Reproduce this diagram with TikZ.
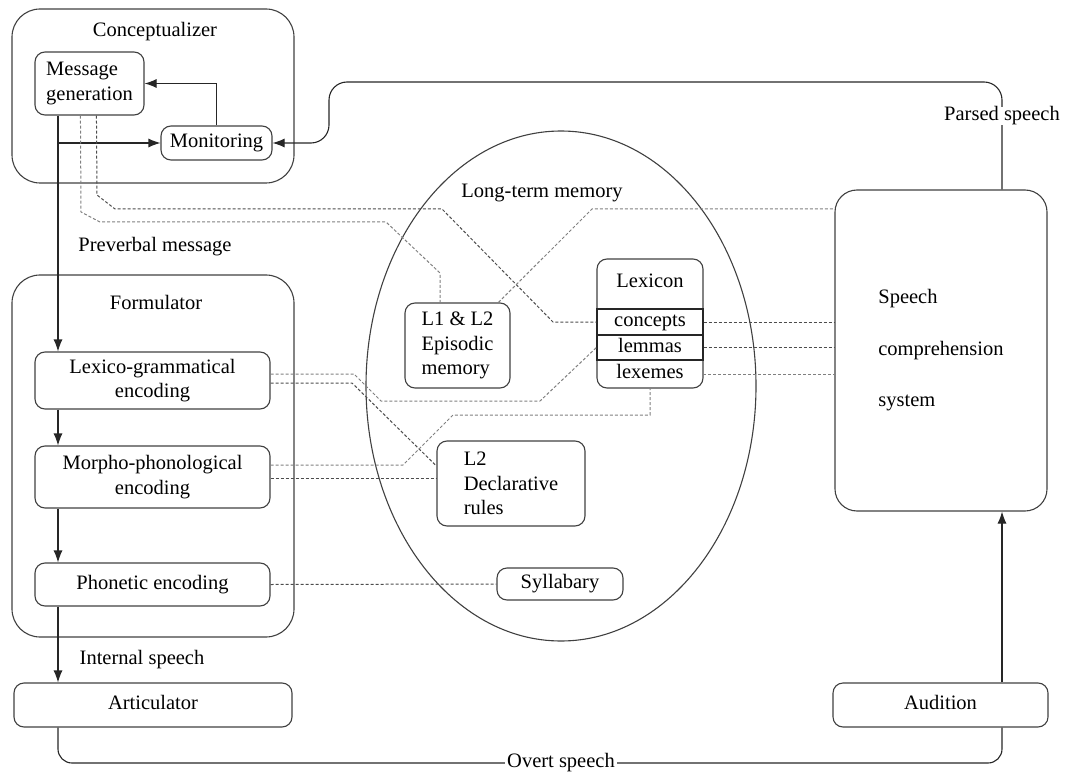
\documentclass[tikz,border=0pt]{standalone}
\usepackage{fontspec}
\setmainfont{Liberation Serif}
\usetikzlibrary{arrows.meta,calc,shapes.geometric}
\begin{document}
\begin{tikzpicture}[x=1pt,y=-1pt,
  font=\fontsize{20.5}{24.5}\selectfont,
  txt/.style={text height=14pt, text depth=4.5pt, inner sep=0pt},
  box/.style={draw=black!75, line width=1.1pt, rounded corners=10pt, inner sep=0pt},
  bigbox/.style={draw=black!75, line width=1.1pt, rounded corners=28pt, inner sep=0pt},
  solidline/.style={draw=black!85, line width=1.1pt},
  arr/.style={solidline, -{Latex[length=12pt,width=9pt]}},
  dk/.style={draw=black!70, line width=1pt, dash pattern=on 3pt off 2pt},
  lt/.style={draw=black!50, line width=1pt, dash pattern=on 3pt off 2pt},
  lbl/.style={txt, fill=white, inner xsep=2pt}]
\useasboundingbox (0,0) rectangle (1067,775);

% ---- containers
\node[bigbox, minimum width=282pt, minimum height=174pt] (concept) at (153,96) {};
\node[txt] (concepttitle) at (155,32) {Conceptualizer};
\node[bigbox, minimum width=282pt, minimum height=362pt] (form) at (153,456) {};
\node[txt] (formtitle) at (156,305) {Formulator};
\node[draw=black!75, line width=1.1pt, ellipse, minimum width=390pt, minimum height=510pt, inner sep=0pt] (ltm) at (561,386) {};
\node[txt] (ltmtitle) at (542,193) {Long-term memory};

% ---- conceptualizer parts
\node[box, minimum width=109pt, minimum height=63pt, align=left] (msg) at (89.5,83.5) {Message\\generation};
\node[box, txt, minimum width=111pt, minimum height=34pt] (mon) at (216.5,143) {Monitoring};

% ---- formulator parts
\node[box, minimum width=235pt, minimum height=57pt, align=center] (lex) at (152.5,380.5) {Lexico-grammatical\\encoding};
\node[box, minimum width=235pt, minimum height=62pt, align=center] (morph) at (152.5,477) {Morpho-phonological\\encoding};
\node[box, txt, minimum width=235pt, minimum height=43pt] (phon) at (152.5,584.5) {Phonetic encoding};

% ---- long-term memory parts
\node[box, minimum width=105pt, minimum height=85pt, align=left] (epi) at (457.5,345.5) {L1 \& L2\\Episodic\\memory};
\node[box, minimum width=106pt, minimum height=129pt] (lexicon) at (650,323.5) {};
\node[txt] (lexicontitle) at (650,283) {Lexicon};
\node[txt, draw=black!85, line width=1.1pt, minimum width=106pt, minimum height=26pt] (concepts) at (650,322) {concepts};
\node[txt, draw=black!85, line width=1.1pt, minimum width=106pt, minimum height=25pt] (lemmas) at (650,347.5) {lemmas};
\node[txt, minimum width=106pt, minimum height=27pt] (lexemes) at (650,374) {lexemes};
\node[box, minimum width=148pt, minimum height=85pt, align=left] (decl) at (511,483.5) {L2\\Declarative\\rules};
\node[box, txt, minimum width=126pt, minimum height=32pt] (syl) at (560,584) {Syllabary};

% ---- right side and bottom
\node[box, rounded corners=22pt, minimum width=212pt, minimum height=321pt, align=left,
      font=\fontsize{20.5}{51.5}\selectfont] (speech) at (941,350.5) {Speech\\comprehension\\system};
\node[box, txt, minimum width=278pt, minimum height=44pt] (artic) at (153,705) {Articulator};
\node[box, txt, minimum width=215pt, minimum height=44pt] (aud) at (940.5,705) {Audition};

\coordinate (trunk) at (58,0);
\coordinate (rt) at (1002,0);

% ---- solid connectors
\draw[arr] (msg.south -| trunk) -- (lex.north -| trunk);
\draw[arr] (trunk |- mon.west) -- (mon.west);
\draw[arr] (mon.north) |- (msg.east);
\draw[arr] (lex.south -| trunk) -- (morph.north -| trunk);
\draw[arr] (morph.south -| trunk) -- (phon.north -| trunk);
\draw[arr] (phon.south -| trunk) -- (artic.north -| trunk);
\draw[arr] (aud.north -| rt) -- (speech.south -| rt);
\draw[arr, rounded corners=18pt] (speech.north -| rt) |- (329,82) |- (mon.east);
\draw[solidline, rounded corners=14pt] (artic.south -| trunk) |- (561,763) -| (aud.south -| rt);

% ---- labels on connectors
\node[txt] (preverbal) at (155,247) {Preverbal message};
\node[txt] (internal) at (142,660) {Internal speech};
\node[lbl] (parsed) at (1002,116) {Parsed speech};
\node[lbl] (overt) at (561,763) {Overt speech};

% ---- dashed connectors
\draw[lt] ($(msg.south west)+(46,0)$) -- (81,212) -- (100,222) -- (386,222) -- (440,273) -- (440,0 |- epi.north);
\draw[dk] ($(msg.south west)+(62,0)$) -- (97,195) -- (115,209) -- (442,209) -- (553,322) -- (concepts.west);
\draw[lt] ($(epi.north west)+(94,0)$) -- (592,209) -- (speech.west |- 0,209);
\draw[dk] (concepts.east) -- (speech.west |- concepts.east);
\draw[dk] (lemmas.east) -- (speech.west |- lemmas.east);
\draw[lt] (lexemes.east) -- (speech.west |- lexemes.east);
\draw[lt] ($(lex.east)+(0,-6.5)$) -- (354,374) -- (381,401) -- (540,401) -- (lemmas.west);
\draw[dk] ($(lex.east)+(0,2.5)$) -- (352,383) -- (decl.west |- 0,466);
\draw[lt] ($(morph.east)+(0,-12)$) -- (403,465) -- (453,415) -- (650,415) -- (lexicon.south);
\draw[dk] ($(morph.east)+(0,1)$) -- (decl.west |- 0,478);
\draw[dk] (phon.east) -- (syl.west);
\end{tikzpicture}
\end{document}
